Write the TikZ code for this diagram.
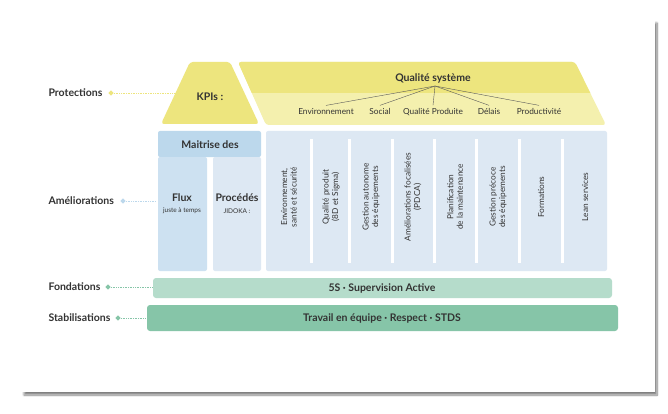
\documentclass[tikz,border=0pt]{standalone}
\usepackage{fontspec}
\setmainfont{Lato}
\usetikzlibrary{shapes.geometric,shadows.blur}
\definecolor{yA}{HTML}{EDE57E}
\definecolor{yB}{HTML}{F4F0AE}
\definecolor{bA}{HTML}{BCD8EC}
\definecolor{bB}{HTML}{CDE1F1}
\definecolor{bC}{HTML}{DDE8F3}
\definecolor{gA}{HTML}{B5DCCB}
\definecolor{gB}{HTML}{86C5A8}
\definecolor{tx}{HTML}{333333}
\tikzset{
 lab/.style={font=\bfseries\fontsize{10.5}{12}\selectfont, text=tx, anchor=west},
 dotline/.style={densely dotted, line width=0.7pt},
 col/.style={rotate=90, align=center, font=\fontsize{8.3}{9.5}\selectfont, text=tx},
 sub/.style={font=\fontsize{8.3}{9}\selectfont, text=tx},
 big/.style={font=\bfseries\fontsize{10.5}{12}\selectfont, text=tx},
}
\begin{document}
\begin{tikzpicture}[x=1pt,y=-1pt]
\useasboundingbox (0,0) rectangle (668,414);
\fill[white, blur shadow={shadow blur steps=10, shadow xshift=2pt, shadow yshift=-3pt, shadow opacity=50}] (22,20) rectangle (655,392);
% roof
\fill[yA, rounded corners=3pt] (190,62) -- (230,62) -- (259,124) -- (161,124) -- cycle;
\node[big] (kpi) at (210,97) {KPIs :};
\begin{scope}
\clip[rounded corners=3pt] (238,62) -- (575,62) -- (606,125) -- (266,125) -- cycle;
\fill[yB] (230,55) rectangle (615,130);
\fill[yA] (230,55) rectangle (615,93);
\end{scope}
\node[big] (qs) at (433,78) {Qualité système};
\coordinate (hub) at (435,86);
\foreach \n/\x/\t in {e/326/Environnement,s/380/Social,q/433/Qualité Produite,d/489/Délais,p/539/Productivité}{
  \node[sub, anchor=base] (\n) at (\x,115) {\t};
  \draw[gray!70!black, line width=0.4pt] (hub) -- (\n.north);
}
% body
\fill[bA, rounded corners=2pt] (158,131) rectangle (261,157);
\node[big] (md) at (210,145) {Maitrise des};
\fill[bB, rounded corners=2pt] (158,157) rectangle (207,271);
\fill[bC, rounded corners=2pt] (213,157) rectangle (261,271);
\node[big] (flux) at (182,198) {Flux};
\node[font=\fontsize{6.5}{7}\selectfont, text=tx] (jat) at (182,211) {juste à temps};
\node[big] (proc) at (237,198) {Procédés};
\node[font=\fontsize{6.5}{7}\selectfont, text=tx] (jid) at (237,211) {JIDOKA :};
\fill[bC, rounded corners=2pt] (266,131) rectangle (607,271);
\foreach \x in {262,310,348,391,433,475,518,561}{
  \fill[white] (\x,139) rectangle (\x+3,263);
}
\foreach \n/\x/\t in {c1/289/{Environnement,\\santé et sécurité},c2/331/{Qualité produit\\(8D et Sigma)},c3/371/{Gestion autonome\\des équipements},c4/413/{Améliorations focalisées\\(PDCA)},c5/455/{Planification\\de la maintenance},c6/498/{Gestion précoce\\des équipements},c7/541/{Formations},c8/585/{Lean services}}{
  \node[col] (\n) at (\x,197) {\t};
}
% foundations
\fill[gA, rounded corners=3pt] (153,278) rectangle (612,298);
\node[big] (f) at (382,288) {5S · Supervision Active};
\fill[gB, rounded corners=3pt] (147,305) rectangle (618,331);
\node[big] (st) at (382,318) {Travail en équipe · Respect · STDS};
% left labels
\node[lab] (lp) at (45,93) {Protections};
\node[lab] (la) at (45,201) {Améliorations};
\node[lab] (lf) at (45,287) {Fondations};
\node[lab] (ls) at (45,318) {Stabilisations};
\node[diamond, fill=yA, inner sep=1.4pt] (dp) at (111,93) {};
\node[diamond, fill=bA, inner sep=1.4pt] (da) at (123,201) {};
\node[diamond, fill=gB, inner sep=1.4pt] (df) at (108,287) {};
\node[diamond, fill=gB, inner sep=1.4pt] (ds) at (118,318) {};
\coordinate (ep) at (176,93);
\coordinate (ea) at (156,201);
\coordinate (ef) at (152,287);
\coordinate (es) at (146,318);
\draw[dotline, yA] (dp) -- (ep);
\draw[dotline, bA] (da) -- (ea);
\draw[dotline, gB] (df) -- (ef);
\draw[dotline, gB] (ds) -- (es);
\end{tikzpicture}
\end{document}
